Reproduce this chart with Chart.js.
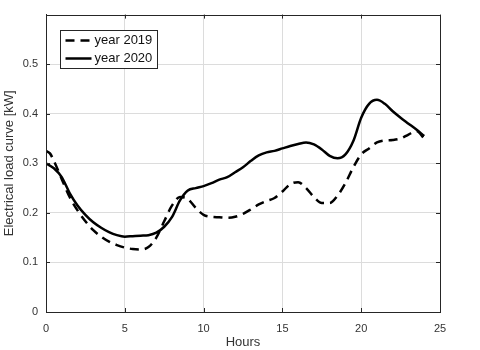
<!DOCTYPE html>
<html>
<head>
<meta charset="utf-8">
<script src="https://cdn.jsdelivr.net/npm/chart.js@4"></script>
<style>
  html, body { margin: 0; padding: 0; background: #fff; }
  #wrap { position: relative; width: 480px; height: 350px; }
</style>
</head>
<body>
<div id="wrap"><canvas id="loadChart"></canvas></div>
<script>
// hours of the day and mean load (kW)
const hours2019 = [0, 0.25, 0.5, 1, 1.5, 2, 2.5, 3, 3.5, 4, 4.5, 5, 5.5, 6, 6.5, 7, 7.5, 8, 8.5, 9, 9.5, 10, 10.5, 11, 11.5, 12,
  12.5, 13, 13.5, 14, 14.5, 15, 15.5, 16, 16.5, 17, 17.5, 18, 18.5, 19, 19.5, 20, 20.5, 21, 21.5, 22, 22.5, 23, 23.5, 24];
const load2019 = [0.325, 0.320, 0.305, 0.268, 0.232, 0.205, 0.183, 0.165, 0.152, 0.142, 0.135, 0.130, 0.127, 0.126, 0.131,
  0.150, 0.183, 0.215, 0.232, 0.228, 0.210, 0.196, 0.192, 0.191, 0.190, 0.192, 0.198, 0.207, 0.217, 0.224, 0.230, 0.243,
  0.258, 0.262, 0.250, 0.232, 0.220, 0.220, 0.235, 0.260, 0.292, 0.318, 0.330, 0.342, 0.346, 0.347, 0.350, 0.358, 0.365, 0.350];

const hours2020 = [0, 0.5, 1, 1.5, 2, 2.5, 3, 3.5, 4, 4.5, 5, 5.5, 6, 6.5, 7, 7.5, 8, 8.5, 9, 9.5, 10, 10.5, 11, 11.5, 12,
  12.5, 13, 13.5, 14, 14.5, 15, 15.5, 16, 16.5, 17, 17.5, 18, 18.5, 19, 19.5, 20, 20.5, 21, 21.5, 22, 22.5, 23, 23.5, 24];
const load2020 = [0.300, 0.290, 0.272, 0.240, 0.215, 0.196, 0.181, 0.170, 0.161, 0.155, 0.152, 0.153, 0.154, 0.155, 0.160,
  0.172, 0.192, 0.225, 0.245, 0.250, 0.254, 0.260, 0.267, 0.272, 0.282, 0.292, 0.305, 0.316, 0.322, 0.325, 0.330, 0.335,
  0.339, 0.342, 0.338, 0.328, 0.315, 0.310, 0.318, 0.345, 0.392, 0.420, 0.428, 0.420, 0.405, 0.392, 0.380, 0.368, 0.355];

const seriesLabels = ["year 2019", "year 2020"];
const xTicks = [0, 5, 10, 15, 20, 25];
const yTicks = [0, 0.1, 0.2, 0.3, 0.4, 0.5];

const FONT = "'Liberation Sans', Arial, sans-serif";
const TEXT = "#333";
const AXIS = "#262626";
const DASH = [9, 6];

const toPoints = (xs, ys) => xs.map((x, i) => ({ x, y: ys[i] }));

// box around the axes, inward ticks on all sides, legend inside the plot
const axesBox = {
  id: "axesBox",
  afterDatasetsDraw(chart) {
    const { ctx, chartArea: a, scales } = chart;
    ctx.save();
    ctx.strokeStyle = AXIS;
    ctx.lineWidth = 1;
    ctx.beginPath();
    xTicks.forEach((t) => {
      const px = Math.round(scales.x.getPixelForValue(t)) + 0.5;
      ctx.moveTo(px, a.bottom); ctx.lineTo(px, a.bottom - 4);
      ctx.moveTo(px, a.top); ctx.lineTo(px, a.top + 4);
    });
    yTicks.forEach((t) => {
      const py = Math.round(scales.y.getPixelForValue(t)) + 0.5;
      ctx.moveTo(a.left, py); ctx.lineTo(a.left + 4, py);
      ctx.moveTo(a.right, py); ctx.lineTo(a.right - 4, py);
    });
    ctx.stroke();
    ctx.strokeRect(Math.round(a.left) + 0.5, Math.round(a.top) + 0.5,
      Math.round(a.right - a.left), Math.round(a.bottom - a.top));

    // legend
    const lx = Math.round(a.left) + 14.5, ly = Math.round(a.top) + 15.5;
    ctx.fillStyle = "#fff";
    ctx.fillRect(lx, ly, 97, 38);
    ctx.strokeStyle = AXIS;
    ctx.lineWidth = 1;
    ctx.strokeRect(lx, ly, 97, 38);
    ctx.font = "13px " + FONT;
    ctx.textBaseline = "middle";
    chart.data.datasets.forEach((ds, i) => {
      const yy = ly + 10 + i * 18;
      ctx.strokeStyle = "#000";
      ctx.lineWidth = 2.5;
      ctx.setLineDash(ds.borderDash || []);
      ctx.beginPath();
      ctx.moveTo(lx + 5, yy); ctx.lineTo(lx + 31, yy);
      ctx.stroke();
      ctx.setLineDash([]);
      ctx.fillStyle = "#111";
      ctx.fillText(ds.label, lx + 34, yy);
    });
    ctx.restore();
  },
};

new Chart(document.getElementById("loadChart"), {
  type: "line",
  data: {
    datasets: [
      {
        label: seriesLabels[0],
        data: toPoints(hours2019, load2019),
        borderColor: "#000",
        borderWidth: 2.5,
        borderDash: DASH,
        pointRadius: 0,
        tension: 0.4,
        cubicInterpolationMode: "monotone",
      },
      {
        label: seriesLabels[1],
        data: toPoints(hours2020, load2020),
        borderColor: "#000",
        borderWidth: 2.5,
        pointRadius: 0,
        tension: 0.4,
        cubicInterpolationMode: "monotone",
      },
    ],
  },
  options: {
    responsive: true,
    maintainAspectRatio: false,
    animation: false,
    layout: { padding: { top: 5, right: 40, left: 0, bottom: 0 } },
    plugins: { legend: { display: false }, tooltip: { enabled: false } },
    scales: {
      x: {
        type: "linear",
        min: 0,
        max: 25,
        afterFit: (s) => { s.height = 38; },
        afterBuildTicks: (s) => { s.ticks = xTicks.map((v) => ({ value: v })); },
        grid: { color: "#dcdcdc", drawTicks: false },
        border: { color: AXIS },
        ticks: { color: TEXT, font: { family: FONT, size: 11 }, padding: 10, maxRotation: 0 },
        title: { display: true, text: "Hours", color: TEXT, font: { family: FONT, size: 13 }, padding: { top: 0, bottom: 0 } },
      },
      y: {
        min: 0,
        max: 0.6,
        afterFit: (s) => { s.width = 46; },
        afterBuildTicks: (s) => { s.ticks = yTicks.map((v) => ({ value: v })); },
        grid: { color: "#dcdcdc", drawTicks: false },
        border: { color: AXIS },
        ticks: {
          color: TEXT,
          font: { family: FONT, size: 11 },
          padding: 8,
          callback: (v) => (v === 0 ? "0" : v.toFixed(1)),
        },
        title: {
          display: true,
          text: "Electrical load curve [kW]",
          color: TEXT,
          font: { family: FONT, size: 13 },
          padding: { top: 2, bottom: 0 },
        },
      },
    },
  },
  plugins: [axesBox],
});
</script>
</body>
</html>
